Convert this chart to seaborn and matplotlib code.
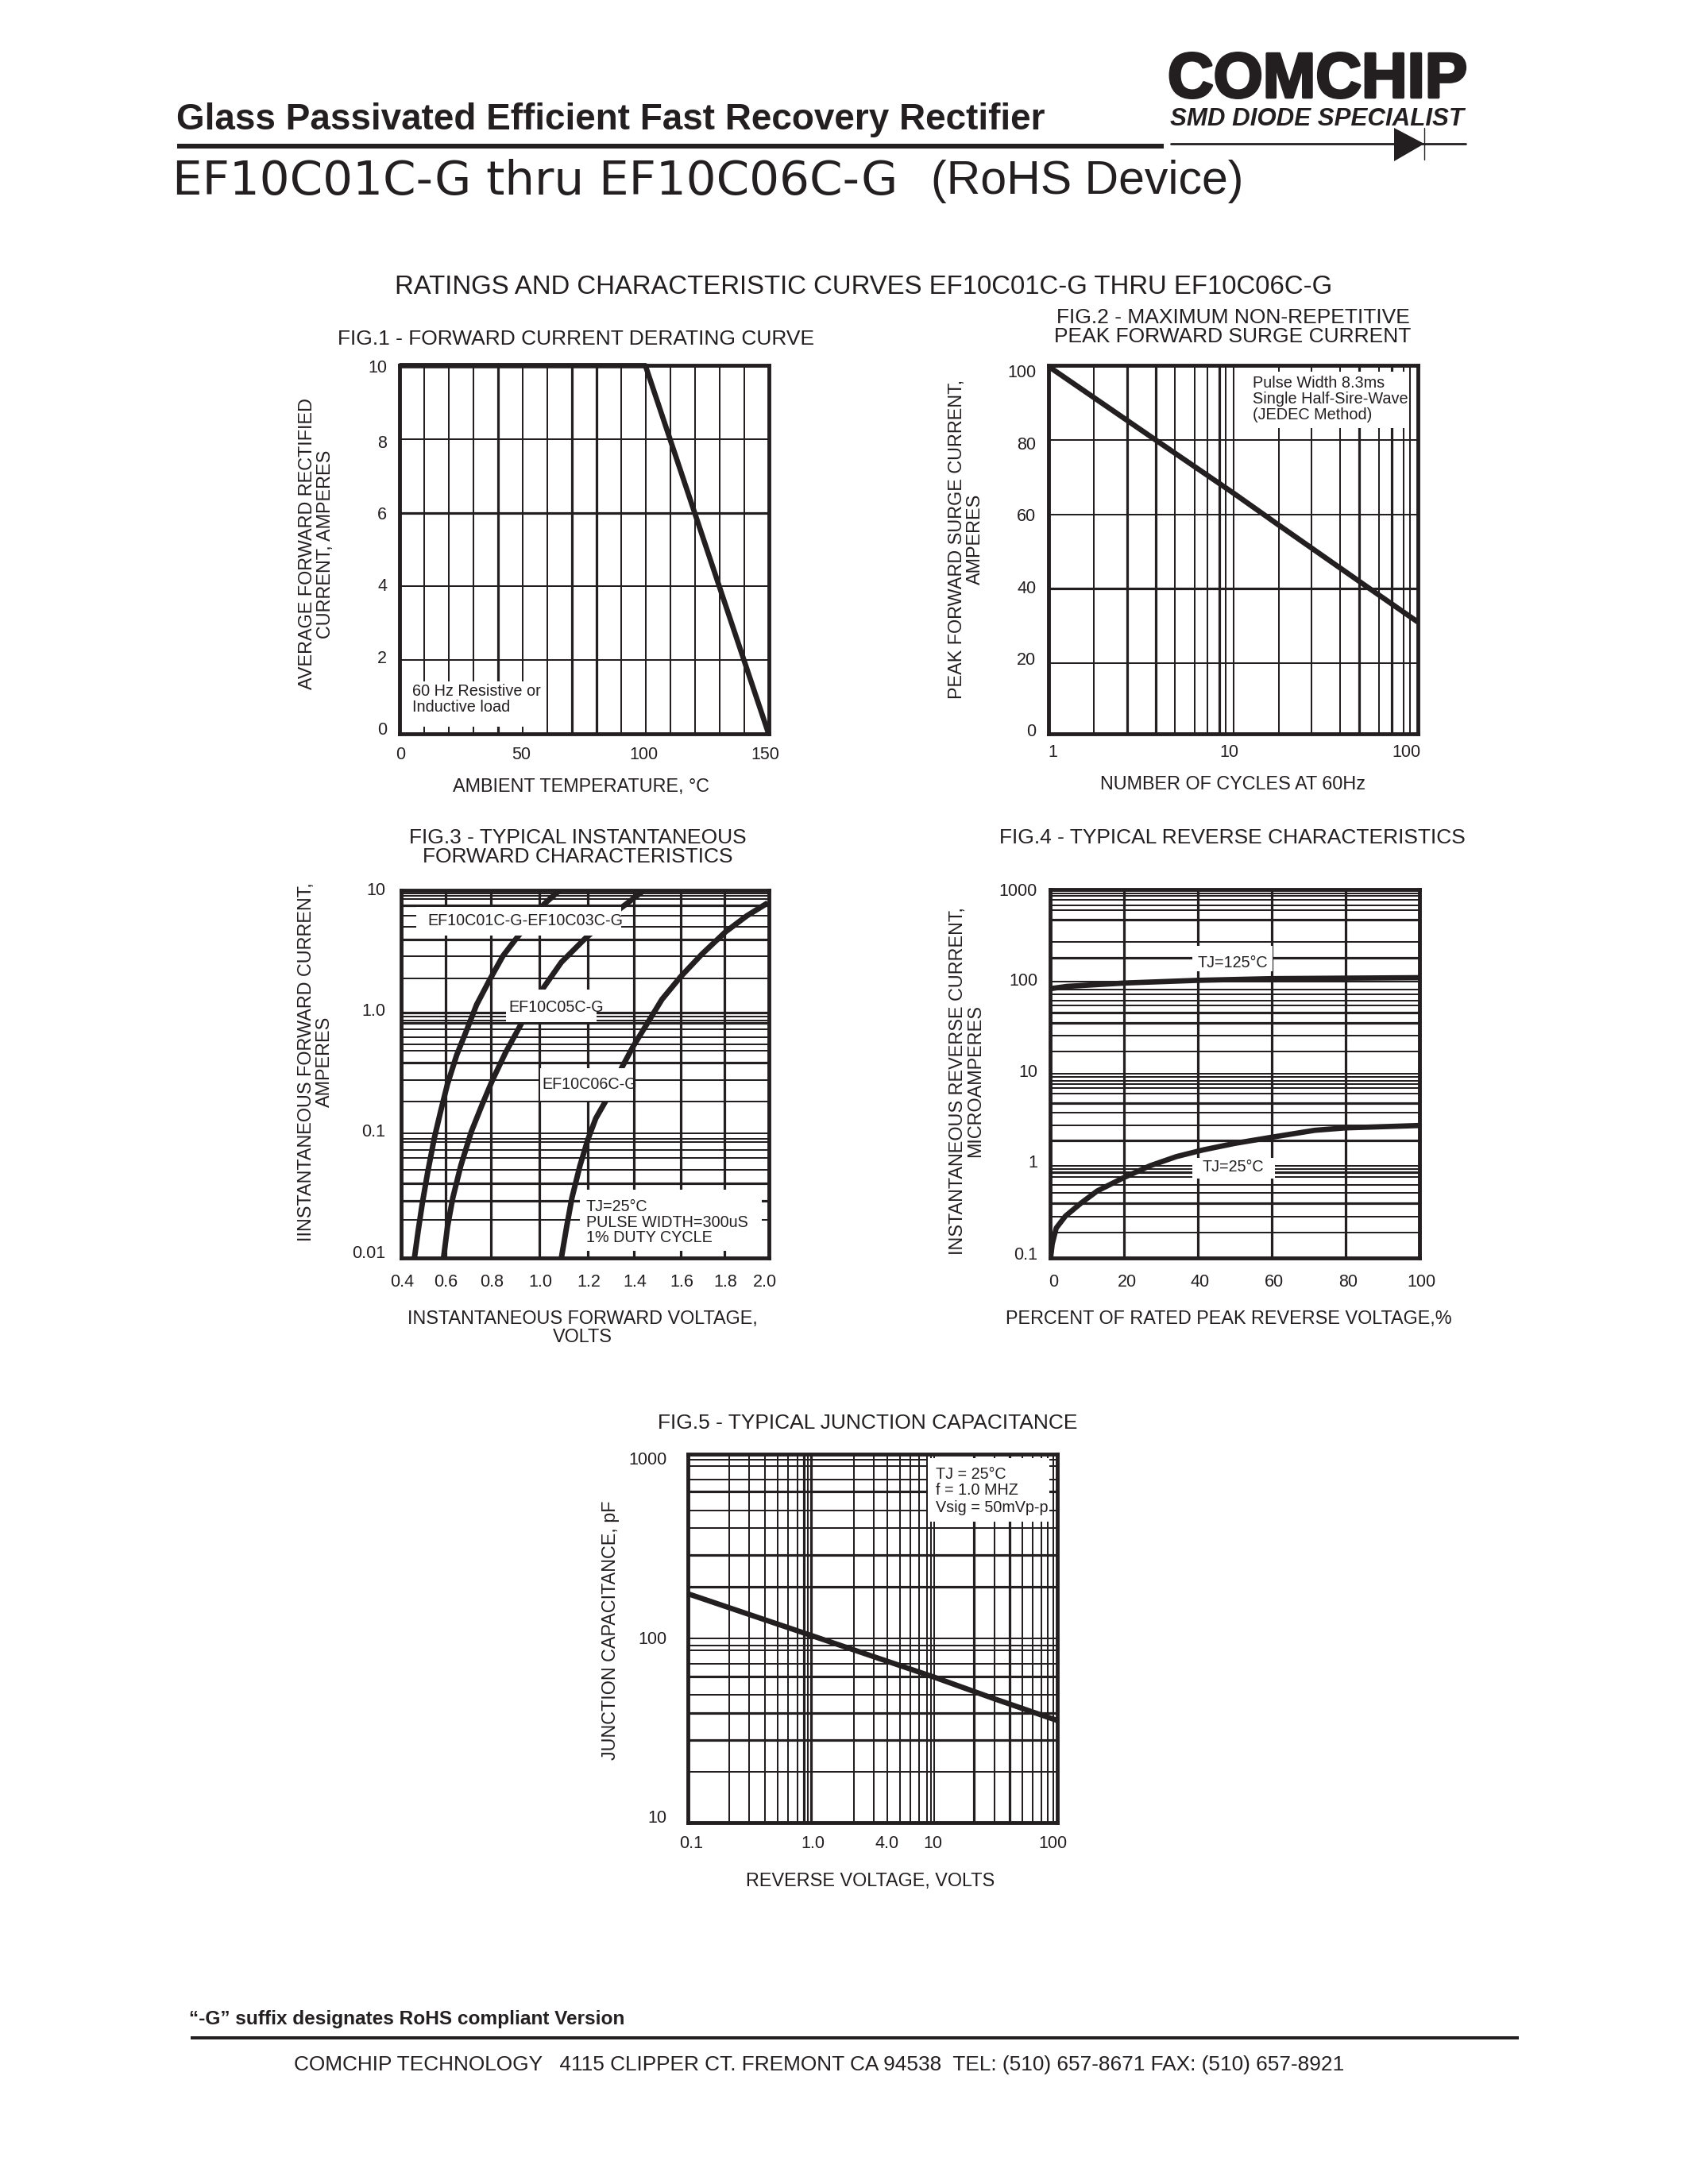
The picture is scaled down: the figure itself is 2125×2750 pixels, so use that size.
#!/usr/bin/env python3
"""Rebuild the EF10C01C-G datasheet curves page."""

import matplotlib
matplotlib.use('Agg')
import matplotlib.pyplot as plt
import matplotlib.patheffects as pe
from matplotlib.patches import Polygon, Rectangle
from matplotlib.lines import Line2D
from matplotlib.transforms import ScaledTranslation
import seaborn as sns

INK = '#231f20'
W, H = 2125, 2750

# FIG.1
fig1_temp = [0, 100, 150]
fig1_current = [10, 10, 0]
fig1_grid_x = [10, 20, 30, 40, 50, 60, 70, 80, 90, 100, 110, 120, 130, 140]
fig1_grid_y = [2, 4, 6, 8]
fig1_heavy = [40, 70, 80, 6]
fig1_xticks = [0, 50, 100, 150]
fig1_yticks = [0, 2, 4, 6, 8, 10]

# FIG.2
fig2_cycles = [1, 3.79, 10, 17.5, 53.6, 100]
fig2_surge = [99.6, 79.7, 65.3, 56.7, 39.7, 30.3]
fig2_grid_x = [1.76, 2.66, 3.78, 4.8, 6.17, 7.2, 8.4, 9.1, 10,
               17.6, 26.6, 37.8, 48, 61.7, 72, 84, 91]
fig2_grid_y = [19.2, 39.4, 59.5, 79.6]
fig2_heavy = [2.66, 3.78, 8.4, 48, 72, 39.4]
fig2_xticks = [1, 10, 100]
fig2_yticks = [0, 20, 40, 60, 80, 100]

# FIG.3
fig3_v1 = [0.4576, 0.4748, 0.4921, 0.5151, 0.5439, 0.5727, 0.6014, 0.6417, 0.6878, 0.7281,
           0.7856, 0.8432, 0.9007, 1.0216, 1.0906]
fig3_i1 = [0.01, 0.0171, 0.0281, 0.0498, 0.0948, 0.16, 0.2625, 0.4535, 0.745, 1.164,
           1.868, 2.92, 4.03, 7.69, 10]
fig3_v2 = [0.5842, 0.6014, 0.6245, 0.659, 0.705, 0.7511, 0.7971, 0.8547, 0.9237, 1.0158,
           1.0964, 1.2, 1.3554, 1.4532]
fig3_i2 = [0.01, 0.018, 0.031, 0.0564, 0.1074, 0.1766, 0.283, 0.477, 0.822, 1.57,
           2.58, 4.03, 7.13, 9.85]
fig3_v3 = [1.0964, 1.1194, 1.1424, 1.177, 1.2115, 1.246, 1.2921, 1.3612, 1.4072, 1.4705,
           1.5338, 1.6144, 1.7065, 1.81, 1.9022, 1.9942]
fig3_i3 = [0.01, 0.018, 0.031, 0.0564, 0.0925, 0.1377, 0.195, 0.363, 0.526, 0.822,
           1.285, 1.96, 2.99, 4.56, 6.15, 7.87]
fig3_grid_x = [0.5922, 0.7914, 1.0009, 1.2115, 1.413, 1.6144, 1.8069]
fig3_grid_y = [9.37, 8.92, 8.48, 7.5, 6.15, 5.04, 3.93, 2.87, 1.91,
               1.0, 0.925, 0.866, 0.821, 0.73, 0.628, 0.555, 0.49, 0.391, 0.282, 0.19,
               0.1035, 0.0944, 0.0881, 0.0759, 0.0653, 0.0523, 0.0408, 0.0295, 0.0204]
fig3_heavy = [0.5922, 0.7914, 1.0009, 1.2115, 1.413, 1.6144, 1.8069, 7.5, 3.93, 0.821, 0.391,
              0.0408, 0.0295, 1.0]
fig3_xticks = [0.4, 0.6, 0.8, 1.0, 1.2, 1.4, 1.6, 1.8, 2.0]
fig3_yticks = [0.01, 0.1, 1, 10]

# FIG.4
fig4_pct_125 = [0, 4.6, 20.2, 40, 60, 100]
fig4_ir_125 = [84, 89, 96.8, 103.5, 108, 110.6]
fig4_pct_25 = [0.05, 0.2, 0.57, 1.65, 4.15, 8.45, 12.74, 19.9, 27.06, 34.2, 41.4, 50, 60, 71.7, 80, 100]
fig4_ir_25 = [0.1, 0.107, 0.1436, 0.2133, 0.2877, 0.40, 0.538, 0.75, 1.01, 1.27, 1.5, 1.766, 2.06, 2.45, 2.6, 2.76]
fig4_grid_x = [20, 40, 60, 80]
fig4_grid_y = [912, 847, 766, 676, 597, 472, 270, 183, 100,
               82.6, 72.8, 62.6, 55.3, 46.0, 35.9, 25.8, 17.5, 10,
               9.2, 8.47, 7.78, 6.98, 6.07, 4.84, 3.84, 2.75, 1.89, 1.0,
               0.935, 0.861, 0.76, 0.632, 0.513, 0.4, 0.286, 0.192]
fig4_heavy = [20, 40, 60, 80, 472, 183, 35.9, 46.0, 4.84, 1.89, 0.4, 0.861]
fig4_xticks = [0, 20, 40, 60, 80, 100]
fig4_yticks = [0.1, 1, 10, 100, 1000]

# FIG.5
fig5_volts = [0.1, 1, 10, 30.8, 100]
fig5_cap = [175, 104, 61.7, 47.1, 35.9]
fig5_grid_x = [0.2165, 0.3146, 0.42, 0.533, 0.647, 0.77, 0.875, 0.94, 1,
               2.225, 3.23, 4.18, 5.24, 6.36, 7.47, 8.77, 9.35, 10,
               20.9, 30.8, 41.1, 51.5, 62.5, 73.4, 83.4, 91.9]
fig5_grid_y = [931, 864, 731, 626, 494, 396, 283, 190, 100, 91.6, 86, 72.8, 62.4, 49.6, 39.3, 28.2, 18.9]
fig5_heavy = [0.875, 1, 20.9, 41.1, 626, 283, 62.4, 28.2, 190, 39.3]
fig5_xticks = [0.1, 1, 4, 10, 100]
fig5_xlabels = ['0.1', '1.0', '4.0', '10', '100']
fig5_yticks = [10, 100, 1000]


def px_rect(left, top, right, bottom):
    return [left / W, 1 - bottom / H, (right - left) / W, (bottom - top) / H]


def put(x, y, s, size, ha='left', va='center', **kw):
    kw.setdefault('color', INK)
    return fig.text(x / W, 1 - y / H, s, fontsize=size, ha=ha, va=va, **kw)


def mask(ax, left, top, right, bottom):
    # white panel behind an annotation; it also hides the curves, as in the sheet
    ax.add_patch(Rectangle((left / W, 1 - bottom / H), (right - left) / W, (bottom - top) / H,
                           transform=fig.transFigure, facecolor='white', edgecolor='none',
                           zorder=5, clip_on=True))


def panel(rect, xlim, ylim, grid_x, grid_y, heavy, xticks, xlabels, yticks, ylabels,
          x_nudge, y_nudge, xpad, ypad, logx=False, logy=False):
    ax = fig.add_axes(px_rect(*rect))
    if logx:
        ax.set_xscale('log')
    if logy:
        ax.set_yscale('log')
    ax.set_xlim(*xlim)
    ax.set_ylim(*ylim)
    for v in grid_x:
        ax.axvline(v, color=INK, lw=2.3 if v in heavy else 1.45, zorder=1)
    for v in grid_y:
        ax.axhline(v, color=INK, lw=2.3 if v in heavy else 1.45, zorder=1)
    ax.set_xticks(xticks, xlabels)
    ax.set_yticks(yticks, ylabels)
    ax.set_xticks([], minor=True)
    ax.set_yticks([], minor=True)
    ax.tick_params(axis='x', which='both', length=0, pad=xpad, labelsize=15.5, labelcolor=INK)
    ax.tick_params(axis='y', which='both', length=0, pad=ypad, labelsize=15.5, labelcolor=INK)
    # the printed tick numbers sit a little off their true positions
    for lab, dx in zip(ax.get_xticklabels(), x_nudge):
        lab.set_transform(lab.get_transform() + ScaledTranslation(dx / 100, 0, fig.dpi_scale_trans))
    for lab, dy in zip(ax.get_yticklabels(), y_nudge):
        lab.set_transform(lab.get_transform() + ScaledTranslation(0, -dy / 100, fig.dpi_scale_trans))
    for sp in ax.spines.values():
        sp.set_color(INK)
        sp.set_linewidth(3.5)
        sp.set_zorder(8)
    return ax


def curve(ax, x, y, lw=4.8):
    sns.lineplot(x=x, y=y, ax=ax, color=INK, linewidth=lw, estimator=None, sort=False,
                 legend=False, zorder=3, solid_capstyle='butt')


sns.set_theme(style='white')
plt.rcParams['font.family'] = ['Liberation Sans', 'DejaVu Sans']

fig = plt.figure(figsize=(W / 100, H / 100), dpi=100, facecolor='white')

# page header
put(222, 151, 'Glass Passivated Efficient Fast Recovery Rectifier', 33, weight='bold')
fig.add_artist(Rectangle((222.5 / W, 1 - 187 / H), 1242.5 / W, 6 / H, transform=fig.transFigure,
                         facecolor=INK, edgecolor='none'))
put(217, 228, 'EF10C01C-G thru EF10C06C-G', 42.8, family='DejaVu Sans')
put(1172, 228, '(RoHS Device)', 42.5)
put(497, 361, 'RATINGS AND CHARACTERISTIC CURVES EF10C01C-G THRU EF10C06C-G', 23.7)

# logo
logo = put(1470, 102, 'COMCHIP', 57.5, weight='bold')
logo.set_path_effects([pe.withStroke(linewidth=2.5, foreground=INK)])
put(1473, 149.5, 'SMD DIODE SPECIALIST', 22.5, weight='bold', style='italic')
fig.add_artist(Line2D([1474 / W, 1845 / W], [1 - 181 / H, 1 - 181 / H], color=INK, lw=2,
                      transform=fig.transFigure))
fig.add_artist(Polygon([(1755 / W, 1 - 161 / H), (1793 / W, 1 - 181 / H), (1755 / W, 1 - 203 / H)],
                       transform=fig.transFigure, facecolor=INK, edgecolor='none'))
fig.add_artist(Line2D([1793 / W, 1793 / W], [1 - 161 / H, 1 - 201 / H], color=INK, lw=1,
                      transform=fig.transFigure))

# FIG.1
ax1 = panel((502.6, 460.4, 967.5, 923.7), (0, 150), (0, 10), fig1_grid_x, fig1_grid_y, fig1_heavy,
            fig1_xticks, [str(v) for v in fig1_xticks], fig1_yticks, [str(v) for v in fig1_yticks],
            [2, -1, -2, -4], [-6.5, -4, -2, 0, 3, 1], 12, 11)
curve(ax1, fig1_temp, fig1_current)
ax1.get_lines()[-1].set_clip_on(False)
mask(ax1, 505, 857.6, 688, 914.7)
put(725, 427, 'FIG.1 - FORWARD CURRENT DERATING CURVE', 19, ha='center')
put(731.6, 990, 'AMBIENT TEMPERATURE, °C', 16.8, ha='center')
put(398, 685, 'AVERAGE FORWARD RECTIFIED\nCURRENT, AMPERES', 16.8, ha='center', rotation=90,
    linespacing=0.95, multialignment='center')
put(518.7, 870, '60 Hz Resistive or', 14.3, zorder=9)
put(518.7, 890, 'Inductive load', 14.3, zorder=9)

# FIG.2
ax2 = panel((1320.4, 459.8, 1785, 923.9), (1, 100), (0, 100), fig2_grid_x, fig2_grid_y, fig2_heavy,
            fig2_xticks, [str(v) for v in fig2_xticks], fig2_yticks, [str(v) for v in fig2_yticks],
            [5, -5, -15], [-4.9, -1.9, 0.4, 2.4, 5.3, 6.9], 9.5, 11.5, logx=True)
curve(ax2, fig2_cycles, fig2_surge)
mask(ax2, 1570.6, 468, 1768, 539)
put(1552, 412, 'FIG.2 - MAXIMUM NON-REPETITIVE\nPEAK FORWARD SURGE CURRENT', 19, ha='center',
    linespacing=1.05, multialignment='center')
put(1552, 987.5, 'NUMBER OF CYCLES AT 60Hz', 16.8, ha='center')
put(1216, 679, 'PEAK FORWARD SURGE CURRENT,\nAMPERES', 16.8, ha='center', rotation=90,
    linespacing=0.95, multialignment='center')
put(1577, 482, 'Pulse Width 8.3ms', 14.3, zorder=9)
put(1577, 502, 'Single Half-Sire-Wave', 14.3, zorder=9)
put(1577, 522, '(JEDEC Method)', 14.3, zorder=9)

# FIG.3
ax3 = panel((505, 1120.7, 968.3, 1584.3), (0.4, 2.0), (0.01, 10), fig3_grid_x, fig3_grid_y, fig3_heavy,
            fig3_xticks, [f'{v:.1f}' for v in fig3_xticks], fig3_yticks, ['0.01', '0.1', '1.0', '10'],
            [1.3, -1.6, -2, 1.7, 4.3, 4.8, 6, 2.6, -5.6], [-8.2, -6.4, -3.9, -1.7], 14, 14, logy=True)
curve(ax3, fig3_v1, fig3_i1, lw=5)
curve(ax3, fig3_v2, fig3_i2, lw=5)
curve(ax3, fig3_v3, fig3_i3, lw=5)
mask(ax3, 524, 1142.3, 781.7, 1177.7)
mask(ax3, 636.7, 1245.7, 750.7, 1286.7)
mask(ax3, 680, 1345, 796.7, 1385.7)
mask(ax3, 730, 1498, 959, 1575)
put(727, 1067, 'FIG.3 - TYPICAL INSTANTANEOUS\nFORWARD CHARACTERISTICS', 19, ha='center',
    linespacing=1.05, multialignment='center')
put(733, 1672, 'INSTANTANEOUS FORWARD VOLTAGE,\nVOLTS', 16.8, ha='center', linespacing=0.95,
    multialignment='center')
put(397, 1337, 'IINSTANTANEOUS FORWARD CURRENT,\nAMPERES', 16.8, ha='center', rotation=90,
    linespacing=0.95, multialignment='center')
put(538.6, 1159, 'EF10C01C-G-EF10C03C-G', 14.2, zorder=9)
put(640.5, 1269, 'EF10C05C-G', 14.2, zorder=9)
put(682.6, 1365.6, 'EF10C06C-G', 14.2, zorder=9)
put(738, 1519.6, 'TJ=25°C', 14.2, zorder=9)
put(738, 1539.5, 'PULSE WIDTH=300uS', 14.2, zorder=9)
put(738, 1559, '1% DUTY CYCLE', 14.2, zorder=9)

# FIG.4
ax4 = panel((1322, 1120, 1787, 1584.5), (0, 100), (0.1, 1000), fig4_grid_x, fig4_grid_y, fig4_heavy,
            fig4_xticks, [str(v) for v in fig4_xticks], fig4_yticks, ['0.1', '1', '10', '100', '1000'],
            [4, 4, 3, 3, 3, 2.3], [-6.3, -5.9, -3.8, -3, -0.4], 14, 11.5, logy=True)
curve(ax4, fig4_pct_125, fig4_ir_125)
curve(ax4, fig4_pct_25, fig4_ir_25)
mask(ax4, 1501, 1190.5, 1602, 1223)
mask(ax4, 1501, 1457.7, 1604.5, 1484)
put(1551, 1055, 'FIG.4 - TYPICAL REVERSE CHARACTERISTICS', 19, ha='center')
put(1547, 1661, 'PERCENT OF RATED PEAK REVERSE VOLTAGE,%', 16.8, ha='center')
put(1217, 1361, 'INSTANTANEOUS REVERSE CURRENT,\nMICROAMPERES', 16.8, ha='center', rotation=90,
    linespacing=0.95, multialignment='center')
put(1552, 1213, 'TJ=125°C', 14.2, ha='center', zorder=9)
put(1552, 1469.5, 'TJ=25°C', 14.2, ha='center', zorder=9)

# FIG.5
ax5 = panel((866, 1831, 1331.4, 2295.4), (0.1, 100), (10, 1000), fig5_grid_x, fig5_grid_y, fig5_heavy,
            fig5_xticks, fig5_xlabels, fig5_yticks, [str(v) for v in fig5_yticks],
            [4.3, 1.9, 1.7, -1.9, -5.6], [-8, -0.8, 5], 11.5, 19, logx=True, logy=True)
curve(ax5, fig5_volts, fig5_cap)
mask(ax5, 1168, 1836, 1320.6, 1916)
put(1092, 1792, 'FIG.5 - TYPICAL JUNCTION CAPACITANCE', 19, ha='center')
put(1096, 2369, 'REVERSE VOLTAGE, VOLTS', 16.8, ha='center')
put(768, 2053, 'JUNCTION CAPACITANCE, pF', 16.8, ha='center', rotation=90)
put(1178, 1856.5, 'TJ = 25°C', 14.2, zorder=9)
put(1178, 1877, 'f = 1.0 MHZ', 14.2, zorder=9)
put(1178, 1898, 'Vsig = 50mVp-p', 14.2, zorder=9)

# page footer
put(238, 2543, '“-G” suffix designates RoHS compliant Version', 17.6, weight='bold')
fig.add_artist(Rectangle((240 / W, 1 - 2568 / H), 1672 / W, 4 / H, transform=fig.transFigure,
                         facecolor=INK, edgecolor='none'))
put(370, 2600, 'COMCHIP TECHNOLOGY   4115 CLIPPER CT. FREMONT CA 94538  TEL: (510) 657-8671 FAX: (510) 657-8921',
    18.9)

fig.savefig('out.png', dpi=100, facecolor='white')
